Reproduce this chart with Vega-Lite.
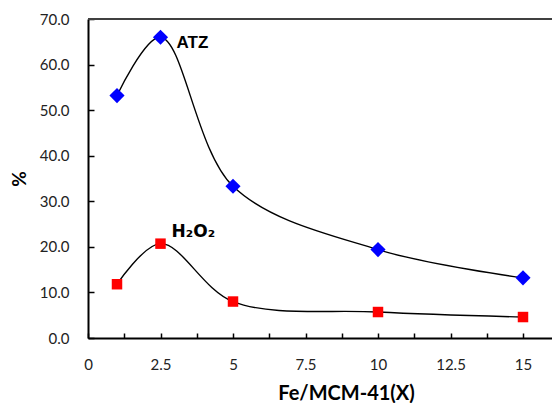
{
  "$schema": "https://vega.github.io/schema/vega-lite/v6.json",
  "width": 464,
  "height": 319,
  "autosize": {"type": "none"},
  "padding": {"left": 88, "top": 19, "right": 0, "bottom": 65},
  "background": "white",
  "config": {"view": {"stroke": null}, "font": "Lato"},
  "data": {
    "values": [
      {"series": "ATZ", "x": 1, "y": 53.2},
      {"series": "ATZ", "x": 2.5, "y": 66.0},
      {"series": "ATZ", "x": 5, "y": 33.3},
      {"series": "ATZ", "x": 10, "y": 19.4},
      {"series": "ATZ", "x": 15, "y": 13.2},
      {"series": "H₂O₂", "x": 1, "y": 11.8},
      {"series": "H₂O₂", "x": 2.5, "y": 20.7},
      {"series": "H₂O₂", "x": 5, "y": 8.0},
      {"series": "H₂O₂", "x": 10, "y": 5.7},
      {"series": "H₂O₂", "x": 15, "y": 4.6}
    ]
  },
  "encoding": {
    "x": {
      "field": "x",
      "type": "quantitative",
      "scale": {"domain": [0, 16], "nice": false, "zero": false},
      "axis": {
        "title": "Fe/MCM-41(X)",
        "titleFont": "Lato",
        "titleFontSize": 20,
        "titleFontWeight": "bold",
        "titleColor": "black",
        "titleX": 258,
        "titlePadding": 11,
        "values": [0, 1.25, 2.5, 3.75, 5, 6.25, 7.5, 8.75, 10, 11.25, 12.5, 13.75, 15],
        "labelExpr": "datum.value % 2.5 == 0 ? '' + datum.value : ''",
        "labelFontSize": 15,
        "labelColor": "#222",
        "labelPadding": 24,
        "labelFlush": false,
        "tickSize": -5,
        "tickColor": "black",
        "tickWidth": 1.5,
        "domainColor": "black",
        "domainWidth": 2,
        "grid": false
      }
    },
    "y": {
      "field": "y",
      "type": "quantitative",
      "scale": {"domain": [0, 70], "nice": false},
      "axis": {
        "title": "%",
        "titleFont": "Lato",
        "titleFontSize": 19,
        "titleFontWeight": "bold",
        "titleColor": "black",
        "titlePadding": 10,
        "values": [0, 10, 20, 30, 40, 50, 60, 70],
        "format": ".1f",
        "labelFontSize": 15,
        "labelColor": "#222",
        "labelPadding": 25,
        "labelFlush": false,
        "tickSize": -6,
        "tickColor": "black",
        "tickWidth": 1.5,
        "domainColor": "black",
        "domainWidth": 2,
        "grid": false
      }
    }
  },
  "layer": [
    {
      "mark": {"type": "rule", "color": "#404040", "strokeWidth": 2},
      "encoding": {"x": null, "y": {"datum": 70}}
    },
    {
      "mark": {"type": "line", "interpolate": "catmull-rom", "color": "black", "strokeWidth": 1.4},
      "encoding": {"detail": {"field": "series"}}
    },
    {
      "mark": {"type": "point", "filled": true, "opacity": 1},
      "encoding": {
        "color": {"field": "series", "type": "nominal", "scale": {"domain": ["ATZ", "H₂O₂"], "range": ["#0000FF", "#FF0000"]}, "legend": null},
        "shape": {"field": "series", "type": "nominal", "scale": {"domain": ["ATZ", "H₂O₂"], "range": ["diamond", "square"]}, "legend": null},
        "size": {"field": "series", "type": "nominal", "scale": {"domain": ["ATZ", "H₂O₂"], "range": [230, 110]}, "legend": null}
      }
    },
    {
      "transform": [{"filter": "datum.series == 'ATZ' && datum.x == 2.5"}],
      "mark": {"type": "text", "align": "left", "baseline": "middle", "dx": 16, "dy": 6, "font": "Liberation Sans", "fontSize": 17, "fontWeight": "bold", "color": "black"},
      "encoding": {"text": {"field": "series"}}
    },
    {
      "transform": [{"filter": "datum.series == 'H₂O₂' && datum.x == 2.5"}],
      "mark": {"type": "text", "align": "left", "baseline": "middle", "dx": 11, "dy": -12, "font": "DejaVu Sans", "fontSize": 17, "fontWeight": "bold", "color": "black"},
      "encoding": {"text": {"field": "series"}}
    }
  ]
}
